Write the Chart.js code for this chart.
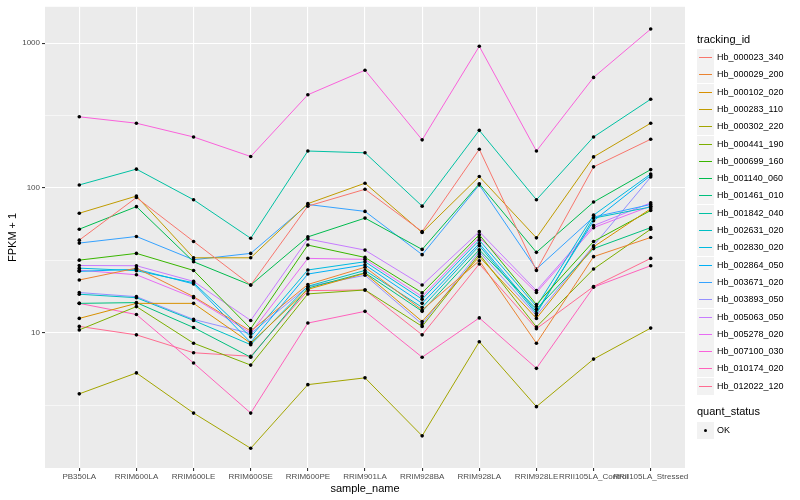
<!DOCTYPE html>
<html>
<head>
<meta charset="utf-8">
<script src="https://cdn.jsdelivr.net/npm/chart.js@4.4.1/dist/chart.umd.min.js"></script>
<style>
  body { margin: 0; background: #fff; }
  #wrap { position: relative; width: 800px; height: 500px; font-family: "Liberation Sans", Arial, sans-serif; }
  #legend { position: absolute; left: 697px; top: 0; }
  .ltitle { position: absolute; left: 0; font-size: 11px; color: #000; white-space: nowrap; }
  .lrow { position: absolute; left: 0; height: 17px; width: 110px; }
  .lkey { position: absolute; left: 0; top: 0; width: 17px; height: 17px; background: #f2f2f2; }
  .lkey i { position: absolute; left: 2px; right: 2px; top: 8px; height: 1px; }
  .lkey b { position: absolute; left: 7px; top: 7px; width: 3px; height: 3px; border-radius: 50%; background: #000; }
  .ltext { position: absolute; left: 20px; top: 3px; font-size: 9px; color: #000; white-space: nowrap; }
</style>
</head>
<body>
<div id="wrap">
  <canvas id="myChart" width="800" height="500"></canvas>
  <div id="legend"></div>
</div>
<script>
const samples = ['PB350LA', 'RRIM600LA', 'RRIM600LE', 'RRIM600SE', 'RRIM600PE', 'RRIM901LA',
    'RRIM928BA', 'RRIM928LA', 'RRIM928LE', 'RRII105LA_Control', 'RRII105LA_Stressed'];

const trackingIds = ['Hb_000023_340', 'Hb_000029_200', 'Hb_000102_020', 'Hb_000283_110', 'Hb_000302_220',
    'Hb_000441_190', 'Hb_000699_160', 'Hb_001140_060', 'Hb_001461_010', 'Hb_001842_040',
    'Hb_002631_020', 'Hb_002830_020', 'Hb_002864_050', 'Hb_003671_020', 'Hb_003893_050',
    'Hb_005063_050', 'Hb_005278_020', 'Hb_007100_030', 'Hb_010174_020', 'Hb_012022_120'];

const colours = ['#F8766D', '#EA8331', '#D89000', '#C09B00', '#A3A500', '#7CAE00', '#39B600', '#00BB4E',
    '#00BF7D', '#00C1A3', '#00BFC4', '#00BAE0', '#00B0F6', '#35A2FF', '#9590FF', '#C77CFF',
    '#E76BF3', '#FA62DB', '#FF62BC', '#FF6C91'];

// FPKM + 1, one value per sample
const hb000023_340 = [43.7, 86, 42.8, 21.4, 75, 98, 50, 185, 27, 140, 217];
const hb000029_200 = [23.2, 28, 17.8, 10.3, 21.6, 28.4, 14.4, 31.5, 8.5, 33.6, 45.6];
const hb000102_020 = [12.6, 16.0, 16.0, 8.5, 20, 25.8, 12.0, 33.6, 12.6, 39.3, 72];
const hb000283_110 = [67, 88, 33, 33, 78, 108, 49.3, 120, 45.3, 164, 280];
const hb000302_220 = [3.8, 5.3, 2.8, 1.6, 4.4, 4.9, 1.95, 8.7, 3.1, 6.6, 10.8];
const hb000441_190 = [10.5, 15.2, 8.5, 6.0, 18.6, 19.8, 11.1, 35, 11.0, 27.6, 52];
const hb000699_160 = [31.8, 35.4, 27, 10.7, 40.4, 33.2, 18.9, 47.6, 15.7, 42.8, 70];
const hb001140_060 = [52, 74.4, 31, 21.4, 46, 62, 37.7, 107, 36, 80, 134];
const hb001461_010 = [16.0, 16.2, 10.9, 6.8, 20.4, 26, 14.1, 37.5, 14.6, 38.2, 53.3];
const hb001842_040 = [105, 135, 83, 45, 180, 175, 75, 250, 83, 225, 410];
const hb002631_020 = [18.5, 17.5, 12.2, 8.3, 21, 27, 15.0, 40, 13.6, 62, 74];
const hb002830_020 = [28, 26.9, 22.2, 9.4, 27.2, 31, 17.1, 43.7, 15.2, 65, 125];
const hb002864_050 = [26.6, 27.5, 21.8, 8.6, 25.5, 29.5, 16.0, 41.4, 14.0, 59.4, 122];
const hb003671_020 = [41.7, 46.3, 32, 35.4, 77, 69, 34.7, 105, 27.6, 63, 77];
const hb003893_050 = [19.0, 17.8, 12.4, 9.9, 20.9, 25, 11.5, 36.3, 13.2, 40, 119];
const hb005063_050 = [29.2, 29.1, 22.7, 12.2, 44.5, 37.3, 21.4, 50, 19.6, 55, 79];
const hb005278_020 = [27.1, 25.2, 17.5, 10.0, 32.7, 32.2, 17.8, 45.6, 19.0, 53.3, 75];
const hb007100_030 = [310, 280, 225, 165, 440, 650, 215, 950, 180, 580, 1250];
const hb010174_020 = [16.0, 13.4, 6.2, 2.8, 11.7, 14.1, 6.8, 12.7, 5.7, 20.7, 29.1];
const hb012022_120 = [11.1, 9.7, 7.3, 6.9, 19.6, 19.8, 9.7, 29.9, 10.7, 20.9, 32.7];

const seriesValues = [hb000023_340, hb000029_200, hb000102_020, hb000283_110, hb000302_220,
    hb000441_190, hb000699_160, hb001140_060, hb001461_010, hb001842_040,
    hb002631_020, hb002830_020, hb002864_050, hb003671_020, hb003893_050,
    hb005063_050, hb005278_020, hb007100_030, hb010174_020, hb012022_120];

const majorTicks = [10, 100, 1000];
const minorTicks = [Math.sqrt(10), Math.sqrt(1000), Math.sqrt(100000)];

let datasets = [];
for (let i = 0; i < trackingIds.length; i++) {
    let pts = [];
    for (let j = 0; j < samples.length; j++) {
        pts.push({ x: j, y: seriesValues[i][j] });
    }
    datasets.push({
        label: trackingIds[i],
        data: pts,
        borderColor: colours[i],
        borderWidth: 1,
        pointRadius: 1.8,
        pointBackgroundColor: '#000',
        pointBorderWidth: 0,
        tension: 0
    });
}

const panelBg = {
    id: 'panelBg',
    beforeDraw(chart) {
        const a = chart.chartArea;
        const ctx = chart.ctx;
        ctx.save();
        ctx.fillStyle = '#EBEBEB';
        ctx.fillRect(a.left, a.top, a.right - a.left, a.bottom - a.top);
        ctx.restore();
    }
};

function isMajor(v) {
    return majorTicks.some(t => Math.abs(t - v) < 1e-6);
}

let context = document.getElementById('myChart').getContext('2d');
let chart = new Chart(context, {
    type: 'line',
    data: { datasets: datasets },
    options: {
        responsive: false,
        animation: false,
        layout: { padding: { left: 0, right: 115, top: 5, bottom: 0 } },
        plugins: { legend: { display: false }, tooltip: { enabled: false } },
        scales: {
            x: {
                type: 'linear',
                min: -0.6,
                max: 10.6,
                afterBuildTicks(scale) {
                    scale.ticks = samples.map((s, i) => ({ value: i }));
                },
                afterFit(scale) { scale.height = 32; },
                ticks: {
                    autoSkip: false,
                    maxRotation: 0,
                    padding: 1,
                    color: '#4D4D4D',
                    font: { family: 'Liberation Sans', size: 8 },
                    callback: (v) => samples[v]
                },
                grid: { color: '#fff', lineWidth: 1.1, tickColor: '#333', tickLength: 3, drawOnChartArea: true },
                border: { display: false },
                title: { display: true, text: 'sample_name', color: '#000', padding: { top: 0, bottom: 4 },
                    font: { family: 'Liberation Sans', size: 11 } }
            },
            y: {
                type: 'logarithmic',
                min: 1.17,
                max: 1780,
                afterBuildTicks(scale) {
                    let t = majorTicks.concat(minorTicks).sort((a, b) => a - b);
                    scale.ticks = t.map(v => ({ value: v }));
                },
                afterFit(scale) { scale.width = 45; },
                ticks: {
                    padding: 2,
                    color: '#4D4D4D',
                    font: { family: 'Liberation Sans', size: 8 },
                    callback: (v) => isMajor(v) ? String(Math.round(v)) : ''
                },
                grid: {
                    color: '#fff',
                    lineWidth: (c) => isMajor(c.tick.value) ? 1.1 : 0.55,
                    tickColor: (c) => isMajor(c.tick.value) ? '#333' : 'rgba(0,0,0,0)',
                    tickLength: 3
                },
                border: { display: false },
                title: { display: true, text: 'FPKM + 1', color: '#000', padding: { top: 6, bottom: 4 },
                    font: { family: 'Liberation Sans', size: 11 } }
            }
        }
    },
    plugins: [panelBg]
});

// legend, built from the same arrays
const legend = document.getElementById('legend');
function addTitle(text, top) {
    let d = document.createElement('div');
    d.className = 'ltitle';
    d.style.top = top + 'px';
    d.textContent = text;
    legend.appendChild(d);
}
function addRow(text, top, colour, dot) {
    let r = document.createElement('div');
    r.className = 'lrow';
    r.style.top = top + 'px';
    let k = document.createElement('div');
    k.className = 'lkey';
    if (dot) {
        k.appendChild(document.createElement('b'));
    } else {
        let line = document.createElement('i');
        line.style.background = colour;
        k.appendChild(line);
    }
    r.appendChild(k);
    let t = document.createElement('div');
    t.className = 'ltext';
    t.textContent = text;
    r.appendChild(t);
    legend.appendChild(r);
}
addTitle('tracking_id', 33);
for (let i = 0; i < trackingIds.length; i++) {
    addRow(trackingIds[i], 49 + i * 17.3, colours[i], false);
}
addTitle('quant_status', 405);
addRow('OK', 422, '#000', true);
</script>
</body>
</html>
